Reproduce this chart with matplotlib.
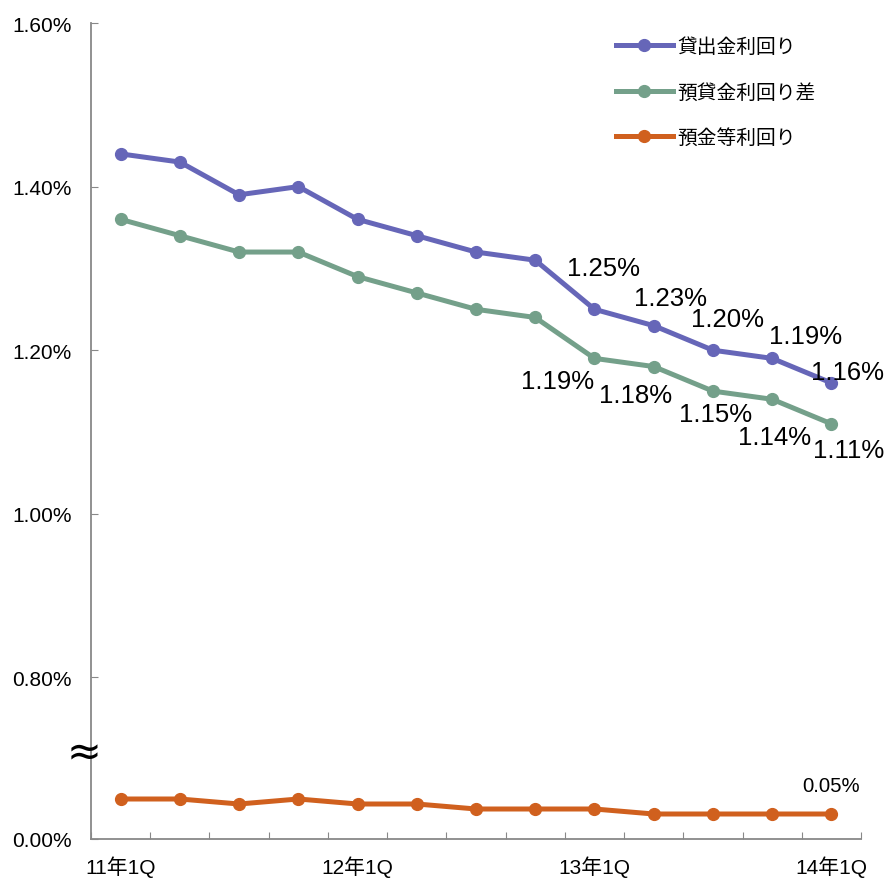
import matplotlib
matplotlib.use("Agg")
import matplotlib.pyplot as plt
from matplotlib.ticker import FixedLocator, NullFormatter

plt.rcParams["font.family"] = ["Liberation Sans", "Noto Sans CJK JP", "DejaVu Sans"]

# data (percent)
quarters = ["11年1Q", "11年2Q", "11年3Q", "11年4Q",
            "12年1Q", "12年2Q", "12年3Q", "12年4Q",
            "13年1Q", "13年2Q", "13年3Q", "13年4Q", "14年1Q"]
loan_yield = [1.44, 1.43, 1.39, 1.40, 1.36, 1.34, 1.32, 1.31, 1.25, 1.23, 1.20, 1.19, 1.16]
spread = [1.36, 1.34, 1.32, 1.32, 1.29, 1.27, 1.25, 1.24, 1.19, 1.18, 1.15, 1.14, 1.11]
deposit_cost = [0.08, 0.08, 0.07, 0.08, 0.07, 0.07, 0.06, 0.06, 0.06, 0.05, 0.05, 0.05, 0.05]
series_names = ["貸出金利回り", "預貸金利回り差", "預金等利回り"]
tick_labels = ["11年1Q", "12年1Q", "13年1Q", "14年1Q"]
tick_idx = [0, 4, 8, 12]
upper_ticks = [0.80, 1.00, 1.20, 1.40, 1.60]

# which points get labels, with pixel offsets of the label centre
loan_lab = [(8, 9, -41), (9, 17, -28), (10, 15, -31), (11, 33, -22), (12, 16, -11)]
spread_lab = [(8, -37, 23), (9, -18, 28), (10, 3, 23), (11, 2, 38), (12, 17, 26)]

colors = ["#6666B8", "#74A08A", "#D0601E"]
spine_col = "#888888"

W, H = 892, 879
fig = plt.figure(figsize=(W / 100, H / 100), dpi=100)
left, right = 91 / W, 861 / W
y_top, y_brk, y_bot = 24, 753, 840
ax_up = fig.add_axes([left, 1 - y_brk / H, right - left, (y_brk - y_top) / H])
ax_lo = fig.add_axes([left, 1 - y_bot / H, right - left, (y_bot - y_brk) / H])
for a in (ax_up, ax_lo):
    a.patch.set_alpha(0)
    a.set_xlim(-0.5, len(quarters) - 0.5)
    for s in ("top", "right"):
        a.spines[s].set_visible(False)
    a.spines["left"].set_color(spine_col)
    a.spines["left"].set_linewidth(1.3)
    a.tick_params(axis="y", direction="in", length=5, color=spine_col,
                  labelsize=15, pad=14)
ax_up.spines["bottom"].set_visible(False)
ax_up.tick_params(axis="x", bottom=False, labelbottom=False)
ax_lo.spines["bottom"].set_color(spine_col)
ax_lo.spines["bottom"].set_linewidth(1.3)

# y scales: upper 818 px per 1 %, lower 500 px per 1 %
ax_up.set_ylim(1.60 - (y_brk - y_top) / 818, 1.60)
ax_lo.set_ylim(0, (y_bot - y_brk) / 500)
ax_up.set_yticks(upper_ticks)
ax_up.set_yticklabels([f"{v:.2f}%" for v in upper_ticks])
ax_lo.set_yticks([0.0])
ax_lo.set_yticklabels(["0.00%"])

x = list(range(len(quarters)))
ax_lo.xaxis.set_major_locator(FixedLocator([i - 0.5 for i in range(len(quarters) + 1)]))
ax_lo.xaxis.set_major_formatter(NullFormatter())
ax_lo.xaxis.set_minor_locator(FixedLocator(tick_idx))
ax_lo.set_xticklabels(tick_labels, minor=True)
ax_lo.tick_params(axis="x", which="major", direction="in", length=5, color=spine_col)
ax_lo.tick_params(axis="x", which="minor", length=0, labelsize=15, pad=11.5)

kw = dict(lw=3.6, marker="o", ms=8.5, solid_joinstyle="round")
h1, = ax_up.plot(x, loan_yield, color=colors[0], **kw)
h2, = ax_up.plot(x, spread, color=colors[1], **kw)
h3, = ax_lo.plot(x, deposit_cost, color=colors[2], clip_on=False, **kw)

for i, dx, dy in loan_lab:
    ax_up.annotate(f"{loan_yield[i]:.2f}%", (x[i], loan_yield[i]), xytext=(dx, -dy),
                   textcoords="offset pixels", ha="center", va="center", fontsize=18.5)
for i, dx, dy in spread_lab:
    ax_up.annotate(f"{spread[i]:.2f}%", (x[i], spread[i]), xytext=(dx, -dy),
                   textcoords="offset pixels", ha="center", va="center", fontsize=18.5)
ax_lo.annotate(f"{deposit_cost[-1]:.2f}%", (x[-1], deposit_cost[-1]), xytext=(0, 28),
               textcoords="offset pixels", ha="center", va="center", fontsize=14.7)

# axis break mark
ax_lo.annotate("≈", (0, 1), xycoords="axes fraction", xytext=(-7, 0),
               textcoords="offset pixels", ha="center", va="center",
               fontsize=30, family="DejaVu Sans", color="black")

fig.legend([h1, h2, h3], series_names, loc="upper left",
           bbox_to_anchor=(616 / W, 1 - 38 / H), frameon=False, fontsize=14.2,
           handlelength=2.88, handletextpad=0.25, labelspacing=1.35,
           borderpad=0, borderaxespad=0)

fig.savefig("out.png", dpi=100)
